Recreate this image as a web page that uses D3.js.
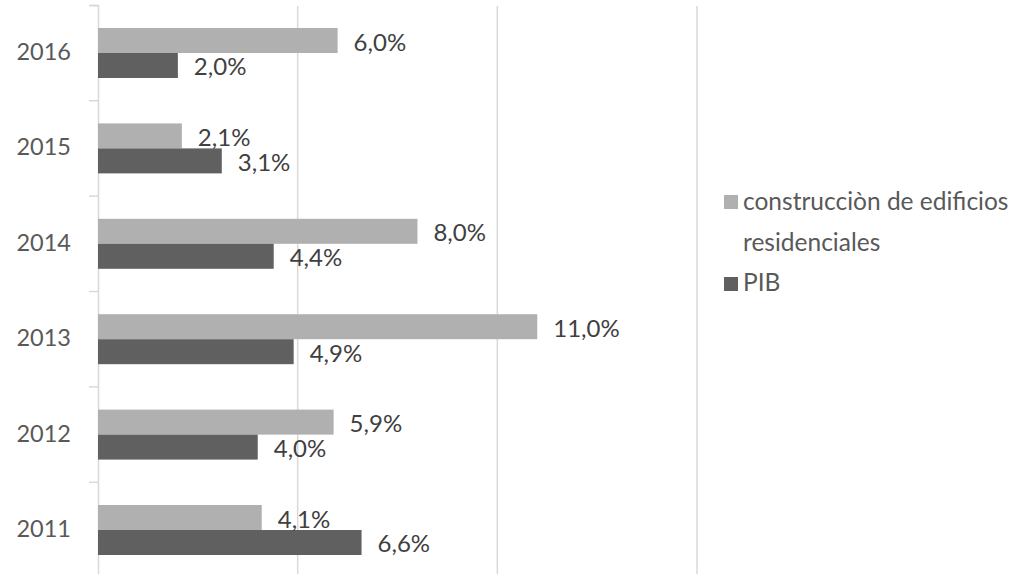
<!DOCTYPE html>
<html><head><meta charset="utf-8">
<script src="https://cdn.jsdelivr.net/npm/d3@7"></script>
<style>body{margin:0;background:#fff;} svg{display:block;font-family:Lato,"Open Sans",sans-serif;}</style>
</head><body>
<svg id="c" width="1023" height="574"></svg>
<script>
const years = ["2016","2015","2014","2013","2012","2011"];
const seriesNames = ["construcciòn de edificios residenciales","PIB"];
const construccion = [6.0, 2.1, 8.0, 11.0, 5.9, 4.1];
const pib = [2.0, 3.1, 4.4, 4.9, 4.0, 6.6];
const xTicks = [0, 5, 10, 15];
const colors = ["#b0b0b0", "#606060"];

const svg = d3.select("#c");
const x = d3.scaleLinear().domain([0, 15]).range([98, 697]);
const y = d3.scaleBand().domain(years).range([5.3, 577.7]).paddingInner(0.476).paddingOuter(0.238);
const ySub = d3.scaleBand().domain([0,1]).range([0, y.bandwidth()]);
const yTick = d3.scaleBand().domain(years).range([5.3, 577.7]);

// gridlines
svg.append("g").selectAll("line").data(xTicks.slice(1)).join("line")
  .attr("x1", d => x(d)).attr("x2", d => x(d))
  .attr("y1", 6).attr("y2", 578)
  .attr("stroke", "#d9d9d9").attr("stroke-width", 1.5);

// y axis
const yAxis = d3.axisLeft(yTick).tickSize(9).tickFormat(d => d);
const gy = svg.append("g").attr("transform", `translate(${x(0)},0)`).call(yAxis);
gy.select(".domain").attr("stroke", "#d9d9d9").attr("stroke-width", 1.5);
gy.selectAll(".tick line").attr("stroke", "#d9d9d9").attr("stroke-width", 1.5)
  .attr("transform", d => `translate(0,${-yTick.bandwidth()/2})`);
gy.selectAll(".tick text").attr("x", -27).attr("fill", "#595959")
  .style("font-size", "23.5px").style("font-family", "Lato, sans-serif").attr("dy", "0.3em");

const data = years.map((yr, i) => ({yr, vals: [construccion[i], pib[i]]}));
const fmt = v => v.toFixed(1).replace(".", ",") + "%";

const groups = svg.append("g").selectAll("g").data(data).join("g")
  .attr("transform", d => `translate(0,${y(d.yr)})`);
groups.selectAll("rect").data(d => d.vals).join("rect")
  .attr("x", x(0)).attr("y", (d, i) => ySub(i))
  .attr("width", d => x(d) - x(0)).attr("height", ySub.bandwidth())
  .attr("fill", (d, i) => colors[i]);
groups.selectAll("text").data(d => d.vals).join("text")
  .attr("x", d => x(d) + 16).attr("y", (d, i) => ySub(i) + ySub.bandwidth()/2 + 10)
  .attr("fill", "#404040")
  .style("font-size", "24px").text(fmt);

// legend
const lg = svg.append("g").style("font-size", "24.5px");
lg.append("rect").attr("x", 724).attr("y", 195).attr("width", 14).attr("height", 14).attr("fill", colors[0]);
const t1 = lg.append("text").attr("x", 743).attr("y", 210).attr("fill", "#595959");
t1.append("tspan").attr("x", 743).text("construcciòn de edificios");
t1.append("tspan").attr("x", 743).attr("y", 251).text("residenciales");
lg.append("rect").attr("x", 724).attr("y", 277).attr("width", 14).attr("height", 14).attr("fill", colors[1]);
lg.append("text").attr("x", 743).attr("y", 291).attr("fill", "#595959").text(seriesNames[1]);
</script>
</body></html>
